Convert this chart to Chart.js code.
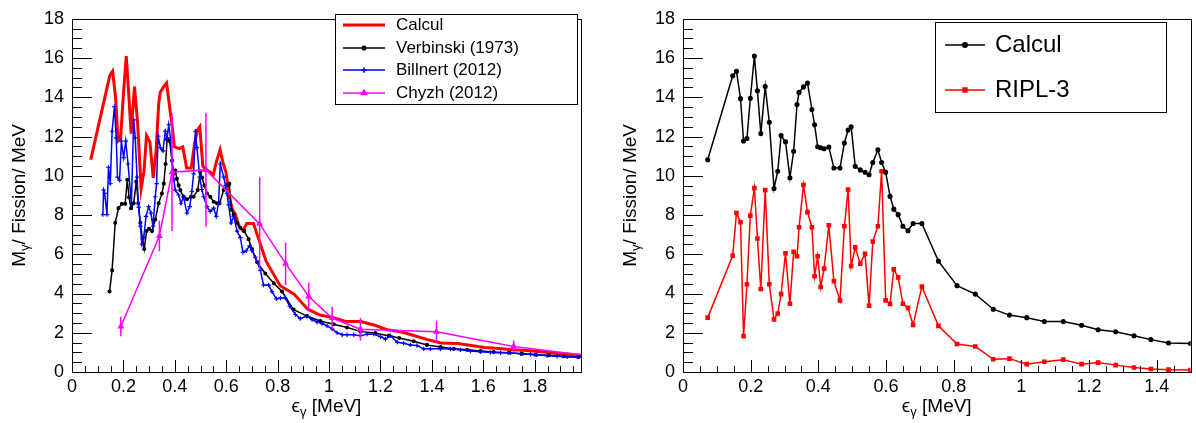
<!DOCTYPE html>
<html>
<head>
<meta charset="utf-8">
<script src="https://cdn.jsdelivr.net/npm/chart.js@4.4.0/dist/chart.umd.min.js"></script>
<style>
html, body { margin:0; padding:0; background:#fff; overflow:hidden; }
#wrap { position:relative; width:1196px; height:423px; }
.panel { position:absolute; top:0; width:598px; height:423px; }
#left { left:0; }
#right { left:598px; }
</style>
</head>
<body>
<div id="wrap">
  <div class="panel" id="left"><canvas id="c1"></canvas></div>
  <div class="panel" id="right"><canvas id="c2"></canvas></div>
</div>
<script>
'use strict';

// Calcul: energy grid shared with RIPL-3 (RIPL-3 stops at 1.5 MeV)
const calcE = [0.073,0.147,0.158,0.170,0.179,0.189,0.199,0.211,0.220,0.230,
               0.243,0.255,0.269,0.280,0.290,0.303,0.316,0.327,0.337,0.343,
               0.356,0.368,0.381,0.389,0.398,0.407,0.417,0.431,0.446,0.464,
               0.477,0.488,0.497,0.509,0.524,0.538,0.550,0.561,0.576,0.587,
               0.599,0.612,0.623,0.636,0.650,0.665,0.680,0.706,0.755,0.810,
               0.864,0.917,0.965,1.016,1.068,1.124,1.178,1.227,1.279,1.333,
               1.383,1.435,1.500,1.553,1.606,1.660,1.715,1.770,1.825,1.880,
               1.935,1.990];
const calcM = [10.82,15.1,15.33,13.93,11.77,11.9,13.95,16.1,14.33,12.15,
               14.55,12.73,9.35,10.23,12.05,11.73,9.9,11.25,13.63,14.25,
               14.53,14.73,13.38,12.6,11.48,11.43,11.38,11.47,10.4,10.4,
               11.67,12.33,12.5,10.48,10.3,10.18,10.05,10.68,11.33,10.68,
               10.18,8.95,8.3,8.02,7.43,7.2,7.57,7.57,5.65,4.4,
               3.97,3.2,2.9,2.77,2.57,2.57,2.38,2.15,2.05,1.85,
               1.65,1.48,1.45,1.35,1.25,1.2,1.13,1.1,1.03,0.96,
               0.9,0.84];
const riplM = [2.77,5.93,8.1,7.63,1.82,4.47,7.97,9.37,6.8,4.23,
               9.27,4.47,2.68,2.98,3.97,6.05,3.48,6.13,5.9,7.38,
               9.53,8.15,7.38,4.88,5.9,4.33,5.27,7.48,4.63,3.65,
               7.43,9.3,5.4,6.35,5.52,6.02,3.38,6.65,7.43,10.23,
               3.65,3.47,5.23,4.82,3.48,3.27,2.4,4.35,2.35,1.43,
               1.3,0.65,0.68,0.4,0.52,0.63,0.4,0.48,0.35,0.23,
               0.15,0.12,0.1];

// Verbinski (1973)
const verbE = [0.146,0.156,0.168,0.181,0.194,0.207,0.215,0.222,0.230,0.240,
               0.250,0.258,0.266,0.274,0.281,0.290,0.300,0.311,0.324,0.337,
               0.350,0.357,0.364,0.370,0.380,0.389,0.395,0.402,0.408,0.415,
               0.421,0.434,0.447,0.463,0.473,0.489,0.499,0.506,0.515,0.525,
               0.538,0.551,0.564,0.574,0.590,0.603,0.612,0.620,0.629,0.642,
               0.655,0.670,0.687,0.700,0.720,0.752,0.785,0.817,0.862,0.914,
               0.966,1.018,1.070,1.122,1.180,1.232,1.273,1.329,1.381,1.433,
               1.485,1.537,1.589,1.640,1.699,1.751,1.803,1.855,1.913,1.971];
const verbM = [4.1,5.18,7.6,8.35,8.57,8.57,9.8,8.9,8.35,8.6,
               9.7,8.6,7.6,6.8,6.27,7.18,7.3,7.18,7.77,8.6,
               9.1,9.6,10.6,11.85,11.77,10.77,10.1,10.27,9.85,9.52,
               9.27,8.93,8.8,8.93,8.93,9.27,10.2,9.9,9.5,9.1,
               8.93,8.68,8.6,8.6,9.27,9.52,9.6,8.27,8.02,7.6,
               7.35,7.18,6.77,6.27,5.6,5.02,4.52,4.1,3.18,2.85,
               2.6,2.43,2.27,2.07,1.98,1.85,1.73,1.57,1.38,1.27,
               1.18,1.13,1.07,1.02,0.98,0.93,0.88,0.85,0.8,0.77];

// Billnert (2012)
const billE = [0.120,0.123,0.127,0.136,0.142,0.149,0.156,0.165,0.172,0.177,
               0.185,0.192,0.201,0.209,0.218,0.231,0.240,0.246,0.253,0.259,
               0.266,0.272,0.279,0.288,0.298,0.307,0.315,0.324,0.329,0.335,
               0.344,0.354,0.363,0.370,0.376,0.383,0.389,0.396,0.402,0.415,
               0.424,0.434,0.447,0.458,0.466,0.473,0.480,0.486,0.497,0.505,
               0.512,0.525,0.538,0.551,0.561,0.570,0.577,0.590,0.597,0.603,
               0.609,0.619,0.629,0.642,0.655,0.665,0.678,0.691,0.700,0.713,
               0.733,0.745,0.765,0.778,0.795,0.811,0.830,0.847,0.869,0.888,
               0.914,0.934,0.953,0.973,0.992,1.012,1.031,1.051,1.070,1.096,
               1.122,1.148,1.174,1.200,1.219,1.239,1.265,1.290,1.316,1.342,
               1.368,1.394,1.433,1.472,1.511,1.550,1.589,1.628,1.667,1.706,
               1.745,1.784,1.809,1.848,1.887,1.926,1.965];
const billM = [8.02,9.27,9.1,8.02,10.43,9.6,12.27,13.52,11.93,9.93,
               9.77,11.77,10.93,11.77,10.6,8.6,12.85,11.93,9.93,8.4,
               7.43,6.52,6.85,7.93,8.43,8.1,7.43,8.93,9.6,12.02,
               11.43,11.27,12.27,11.93,12.6,11.93,10.77,9.8,9.27,9.02,
               8.6,8.93,8.1,8.43,9.2,10.1,12.27,11.43,9.93,9.3,
               8.93,8.43,8.18,8.35,7.93,8.6,10.6,9.93,9.5,9.1,
               8.52,7.6,7.93,7.18,6.85,6.1,6.18,6.43,6.18,5.85,
               5.18,4.43,4.43,4.1,3.73,3.77,3.77,3.35,2.93,2.72,
               2.85,2.67,2.55,2.47,2.35,2.2,2.0,1.9,1.9,1.9,
               1.85,1.93,1.93,1.8,1.68,1.85,1.52,1.47,1.38,1.35,
               1.18,1.18,1.18,1.17,1.13,1.07,1.03,1.0,0.98,0.97,
               0.93,0.9,0.88,0.83,0.8,0.77,0.77];

// Chyzh (2012)
const chyzE   = [0.19,0.34,0.389,0.521,0.73,0.831,0.921,1.012,1.122,1.418,1.718,2.02];
const chyzM   = [2.32,6.93,10.18,10.3,7.55,5.52,3.85,2.75,2.18,2.05,1.3,0.82];
const chyzErr = [0.5,0.78,3.0,2.9,2.37,1.08,0.7,0.57,0.57,0.55,0.3,0.2];

// axis ticks
const yTicks      = [0,2,4,6,8,10,12,14,16,18];
const xTicksLeft  = [0,0.2,0.4,0.6,0.8,1,1.2,1.4,1.6,1.8];
const xTicksRight = [0,0.2,0.4,0.6,0.8,1,1.2,1.4];

const FONT = "'Liberation Sans', Arial, sans-serif";
Chart.defaults.font.family = FONT;
Chart.defaults.color = '#000';

const pts = (xs, ys) => ys.map((y, i) => ({ x: xs[i], y: y }));

// frame + ROOT style inner ticks
const rootFrame = {
    id: 'rootFrame',
    afterDraw(chart) {
        const { ctx, chartArea: a, scales: { x, y } } = chart;
        ctx.save();
        ctx.strokeStyle = '#000';
        ctx.lineWidth = 1;
        ctx.strokeRect(Math.round(a.left) + 0.5, Math.round(a.top) + 0.5,
                       Math.round(a.right - a.left), Math.round(a.bottom - a.top));
        ctx.beginPath();
        for (let i = 0; i * 0.05 <= x.max + 1e-9; i++) {
            const px = Math.round(x.getPixelForValue(i * 0.05)) + 0.5;
            const len = i % 4 === 0 ? 12 : 6;
            ctx.moveTo(px, a.bottom);
            ctx.lineTo(px, a.bottom - len);
        }
        for (let i = 0; i * 0.5 <= y.max + 1e-9; i++) {
            const py = Math.round(y.getPixelForValue(i * 0.5)) + 0.5;
            const len = i % 4 === 0 ? 20 : 10;
            ctx.moveTo(a.left, py);
            ctx.lineTo(a.left + len, py);
        }
        ctx.stroke();
        ctx.restore();
    }
};

// vertical error bars for datasets that carry errY
const errorBars = {
    id: 'errorBars',
    afterDatasetDraw(chart, args) {
        const ds = chart.data.datasets[args.index];
        if (!ds.errY) return;
        const { ctx, chartArea: a, scales: { y } } = chart;
        ctx.save();
        ctx.beginPath();
        ctx.rect(a.left, a.top, a.right - a.left, a.bottom - a.top);
        ctx.clip();
        ctx.strokeStyle = ds.borderColor;
        ctx.lineWidth = 1.5;
        ctx.beginPath();
        args.meta.data.forEach((pt, i) => {
            const v = ds.data[i].y, e = ds.errY[i];
            ctx.moveTo(pt.x, y.getPixelForValue(v - e));
            ctx.lineTo(pt.x, y.getPixelForValue(v + e));
        });
        ctx.stroke();
        ctx.restore();
    }
};

function drawParts(ctx, parts) {
    let w = 0;
    parts.forEach(p => { ctx.font = p[1] + 'px ' + FONT; w += ctx.measureText(p[0]).width; });
    let x = -w / 2;
    parts.forEach(p => {
        ctx.font = p[1] + 'px ' + FONT;
        ctx.fillText(p[0], x, p[2]);
        x += ctx.measureText(p[0]).width;
    });
}

// axis titles with subscript gamma
const axisTitles = {
    id: 'axisTitles',
    afterDraw(chart, args, opts) {
        const { ctx, chartArea: a } = chart;
        ctx.save();
        ctx.fillStyle = '#000';
        ctx.textBaseline = 'middle';
        ctx.textAlign = 'left';
        ctx.save();
        ctx.translate(a.left - opts.yOff, (a.top + a.bottom) / 2);
        ctx.rotate(-Math.PI / 2);
        drawParts(ctx, [['M', 19, 0], ['\u03b3', 13, 5], ['/ Fission/ MeV', 19, 0]]);
        ctx.restore();
        ctx.translate((a.left + a.right) / 2, 407);
        drawParts(ctx, [['\u03f5', 19, 0], ['\u03b3', 13, 5], [' [MeV]', 19, 0]]);
        ctx.restore();
    }
};

// ROOT style legend box inside the pad
const boxLegend = {
    id: 'boxLegend',
    afterDraw(chart, args, o) {
        const ctx = chart.ctx;
        ctx.save();
        ctx.fillStyle = '#fff';
        ctx.fillRect(o.x0, o.y0, o.x1 - o.x0, o.y1 - o.y0);
        ctx.strokeStyle = '#000';
        ctx.lineWidth = 1;
        ctx.strokeRect(o.x0 + 0.5, o.y0 + 0.5, o.x1 - o.x0, o.y1 - o.y0);
        ctx.textBaseline = 'middle';
        ctx.font = o.size + 'px ' + FONT;
        o.items.forEach((idx, k) => {
            const ds = chart.data.datasets[idx];
            const yy = o.rows[k];
            ctx.strokeStyle = ds.borderColor;
            ctx.lineWidth = ds.borderWidth;
            ctx.beginPath();
            ctx.moveTo(o.lx0, yy);
            ctx.lineTo(o.lx1, yy);
            ctx.stroke();
            if (ds.pointRadius > 0) {
                ctx.fillStyle = ds.borderColor;
                ctx.lineWidth = 1.5;
                Chart.helpers.drawPoint(ctx, {
                    pointStyle: ds.pointStyle, radius: ds.pointRadius + 0.5, rotation: 0, borderWidth: 1.5
                }, (o.lx0 + o.lx1) / 2, yy);
            }
            ctx.fillStyle = '#000';
            ctx.fillText(ds.label, o.tx, yy);
        });
        ctx.restore();
    }
};

function baseOptions(xmax, xticks, yWidth, padRight) {
    return {
        responsive: true,
        maintainAspectRatio: false,
        animation: false,
        devicePixelRatio: 1,
        layout: { padding: { top: 12, right: padRight, left: 0, bottom: 0 } },
        elements: { line: { tension: 0 } },
        plugins: { legend: { display: false }, tooltip: { enabled: false } },
        scales: {
            x: {
                type: 'linear', min: 0, max: xmax,
                grid: { display: false, drawTicks: false },
                border: { display: false },
                afterBuildTicks: s => { s.ticks = xticks.map(v => ({ value: v })); },
                afterFit: s => { s.height = 51; },
                ticks: { padding: 4, maxRotation: 0, font: { size: 18 }, color: '#000',
                         callback: v => String(+v.toFixed(2)) }
            },
            y: {
                type: 'linear', min: 0, max: 18,
                grid: { display: false, drawTicks: false },
                border: { display: false },
                afterBuildTicks: s => { s.ticks = yTicks.map(v => ({ value: v })); },
                afterFit: s => { s.width = yWidth; },
                ticks: { padding: 8, font: { size: 18 }, color: '#000',
                         callback: v => String(+v.toFixed(2)) }
            }
        }
    };
}

// left pad: comparison with data
const opt1 = baseOptions(1.98, xTicksLeft, 72, 17);
opt1.plugins.axisTitles = { yOff: 52 };
opt1.plugins.boxLegend = {
    x0: 335, y0: 14, x1: 577, y1: 104, lx0: 343, lx1: 385, tx: 396, size: 17,
    rows: [25, 48, 70, 93], items: [0, 1, 2, 3]
};
new Chart(document.getElementById('c1'), {
    type: 'line',
    data: {
        datasets: [
            { label: 'Calcul', data: pts(calcE, calcM), borderColor: '#ff0000', borderWidth: 3,
              pointRadius: 0, order: 4 },
            { label: 'Verbinski (1973)', data: pts(verbE, verbM), borderColor: '#000000', borderWidth: 1.5,
              pointStyle: 'circle', pointRadius: 1.3, pointBackgroundColor: '#000000', order: 3 },
            { label: 'Billnert (2012)', data: pts(billE, billM), borderColor: '#0000ff', borderWidth: 1.5,
              pointStyle: 'cross', pointRadius: 2.2, pointBorderWidth: 1.2, order: 2 },
            { label: 'Chyzh (2012)', data: pts(chyzE, chyzM), errY: chyzErr, borderColor: '#ff00ff', borderWidth: 1.5,
              pointStyle: 'triangle', pointRadius: 2.5, pointBackgroundColor: '#ff00ff', order: 1 }
        ]
    },
    options: opt1,
    plugins: [errorBars, rootFrame, axisTitles, boxLegend]
});

// right pad: Calcul vs RIPL-3
const opt2 = baseOptions(1.5, xTicksRight, 85, 5);
opt2.plugins.axisTitles = { yOff: 52 };
opt2.plugins.boxLegend = {
    x0: 337, y0: 22, x1: 568, y1: 112, lx0: 347, lx1: 387, tx: 397, size: 24,
    rows: [45, 90], items: [0, 1]
};
new Chart(document.getElementById('c2'), {
    type: 'line',
    data: {
        datasets: [
            { label: 'Calcul', data: pts(calcE, calcM), borderColor: '#000000', borderWidth: 1.5,
              pointStyle: 'circle', pointRadius: 1.8, pointBackgroundColor: '#000000', order: 1 },
            { label: 'RIPL-3', data: pts(calcE, riplM), borderColor: '#ff0000', borderWidth: 1.5,
              pointStyle: 'rect', pointRadius: 2.2, pointBackgroundColor: '#ff0000', order: 2 }
        ]
    },
    options: opt2,
    plugins: [errorBars, rootFrame, axisTitles, boxLegend]
});
</script>
</body>
</html>
